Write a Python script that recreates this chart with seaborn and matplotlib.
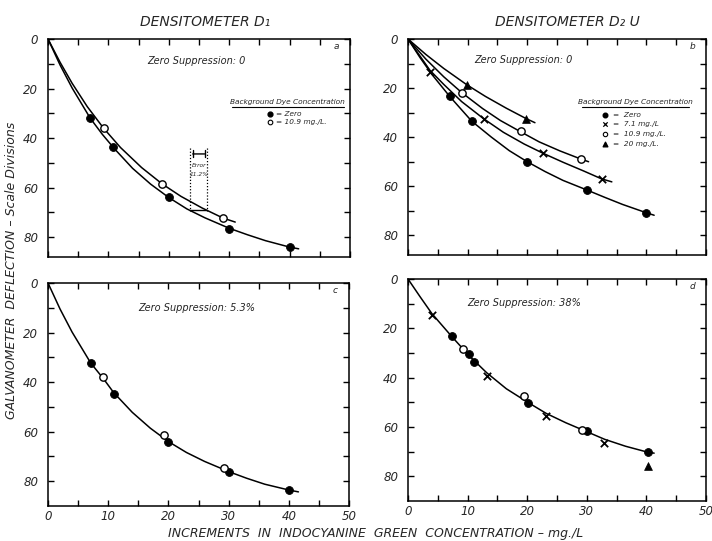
import numpy as np
import pandas as pd
import matplotlib
matplotlib.use("Agg")
import matplotlib.pyplot as plt
import seaborn as sns

# ---------------- data ----------------
# Panel a: Densitometer D1, zero suppression 0
a_zero_x = [7.0, 10.7, 20.0, 30.0, 40.0]
a_zero_y = [32.0, 43.6, 63.8, 76.5, 83.8]
a_109_x = [9.2, 18.9, 29.0]
a_109_y = [35.9, 58.5, 72.3]
a_zero_curve_x = [0, 2, 4, 7, 9, 11, 14, 17, 20, 23, 26, 30, 33, 36, 40, 41.5]
a_zero_curve_y = [0, 10.5, 19.8, 32.0, 38.5, 44.3, 52.2, 58.6, 64.0, 68.6, 72.2, 76.4, 79.0, 81.4, 84.0, 84.7]
a_109_curve_x = [0, 2, 4, 6.5, 9.2, 12, 15.5, 18.9, 22, 25.5, 29, 31]
a_109_curve_y = [0, 9.4, 17.9, 27.3, 36.0, 43.8, 51.9, 58.5, 63.5, 68.2, 72.3, 73.9]
err_x = [23.5, 26.4]
err_y = [44.0, 69.5]
err_arrow_y = 46.4
err_bar_y = 69.0

# Panel b: Densitometer D2U, zero suppression 0
b_zero_x = [7.0, 10.7, 20.0, 30.0, 40.0]
b_zero_y = [23.4, 33.5, 50.0, 61.5, 70.8]
b_71_x = [3.7, 12.7, 22.7, 32.5]
b_71_y = [13.3, 32.5, 46.6, 57.0]
b_109_x = [9.0, 18.9, 29.0]
b_109_y = [21.8, 37.5, 48.9]
b_20_x = [9.9, 19.8]
b_20_y = [18.7, 32.4]
b_zero_curve_x = [0, 2, 4, 7, 10.7, 14, 17, 20, 23, 26, 30, 33, 36, 40, 41.3]
b_zero_curve_y = [0, 7.5, 14.4, 23.4, 33.5, 40.0, 45.5, 50.0, 54.0, 57.6, 61.5, 64.5, 67.4, 70.8, 71.8]
b_71_curve_x = [0, 3.7, 6, 9, 12.7, 16, 19.5, 22.7, 26, 29.5, 32.5, 34.2]
b_71_curve_y = [0, 12.8, 18.5, 25.5, 32.5, 38.0, 42.8, 46.6, 50.2, 53.8, 57.0, 58.2]
b_109_curve_x = [0, 3, 6, 9, 12.5, 15.5, 18.9, 22, 25.5, 29, 30.3]
b_109_curve_y = [0, 8.2, 15.4, 21.8, 28.3, 33.2, 37.8, 41.9, 45.6, 48.9, 50.0]
b_20_curve_x = [0, 3, 6, 9.9, 13, 16.5, 19.8, 21.3]
b_20_curve_y = [0, 6.3, 12.0, 18.7, 23.4, 28.2, 32.4, 34.1]

# Panel c: Densitometer D1, zero suppression 5.3%
c_zero_x = [7.1, 10.9, 20.0, 30.1, 40.1]
c_zero_y = [32.3, 44.6, 64.1, 76.2, 83.4]
c_109_x = [9.2, 19.2, 29.3]
c_109_y = [38.1, 61.5, 74.8]
c_curve_x = [0, 2, 4, 7.1, 9.2, 10.9, 14, 17, 20, 23, 26, 30.1, 33, 36, 40.1, 41.6]
c_curve_y = [0, 10.5, 19.8, 32.3, 38.6, 44.2, 52.2, 58.6, 64.0, 68.4, 72.0, 76.2, 78.8, 81.2, 83.6, 84.3]

# Panel d: Densitometer D2U, zero suppression 38%
d_zero_x = [7.3, 10.3, 11.1, 20.1, 30.1, 40.2]
d_zero_y = [23.0, 30.6, 33.8, 50.1, 61.6, 70.1]
d_71_x = [4.0, 13.2, 23.2, 32.9]
d_71_y = [14.7, 39.2, 55.5, 66.4]
d_109_x = [9.3, 19.4, 29.2]
d_109_y = [28.4, 47.4, 61.4]
d_20_x = [40.2]
d_20_y = [75.9]
d_curve_x = [0, 2, 4, 7.3, 10.3, 13.2, 16.5, 20.1, 23.2, 26.5, 30.1, 33, 36.5, 40.2, 41.3]
d_curve_y = [0, 7.1, 14.0, 23.2, 31.2, 38.0, 44.5, 50.0, 54.5, 58.3, 62.0, 65.0, 67.8, 70.2, 70.6]

x_ticks = [0, 10, 20, 30, 40, 50]
y_ticks = [0, 20, 40, 60, 80]

# ---------------- drawing ----------------
sns.set_style("ticks")
plt.rcParams['font.family'] = ['DejaVu Sans']
plt.rcParams['axes.edgecolor'] = 'black'
plt.rcParams['axes.linewidth'] = 1.1

fig = plt.figure(figsize=(7.12, 5.41), dpi=100)
ax_a = fig.add_axes([48 / 712, 1 - 257 / 541, 302 / 712, 218 / 541])
ax_b = fig.add_axes([408 / 712, 1 - 255 / 541, 298 / 712, 216 / 541])
ax_c = fig.add_axes([48 / 712, 1 - 506 / 541, 301 / 712, 223 / 541])
ax_d = fig.add_axes([408 / 712, 1 - 501 / 541, 298 / 712, 222 / 541])


def curve(ax, xs, ys):
    df = pd.DataFrame({"x": xs, "y": ys})
    sns.lineplot(data=df, x="x", y="y", sort=False, estimator=None,
                 color="black", linewidth=1.1, ax=ax, zorder=2)


def pts(ax, xs, ys, kind):
    df = pd.DataFrame({"x": xs, "y": ys})
    if kind == "closed":
        sns.scatterplot(data=df, x="x", y="y", marker="o", s=32, color="black",
                        edgecolor="black", linewidth=0.6, ax=ax, zorder=3)
    elif kind == "open":
        sns.scatterplot(data=df, x="x", y="y", marker="o", s=28, color="white",
                        edgecolor="black", linewidth=1.0, ax=ax, zorder=3)
    elif kind == "cross":
        sns.scatterplot(data=df, x="x", y="y", marker="x", s=28, color="black",
                        linewidth=1.3, ax=ax, zorder=3)
    elif kind == "tri":
        sns.scatterplot(data=df, x="x", y="y", marker="^", s=32, color="black",
                        edgecolor="black", linewidth=0.5, ax=ax, zorder=3)


def style(ax, ymax, show_x, letter, zs_text, zs_pos):
    ax.set_xlim(0, 50)
    ax.set_ylim(ymax, 0)
    ax.set_xlabel("")
    ax.set_ylabel("")
    ax.set_xticks(x_ticks)
    ax.set_xticks([5, 15, 25, 35, 45], minor=True)
    ax.set_yticks(y_ticks)
    ax.set_yticks([10, 30, 50, 70], minor=True)
    if show_x:
        ax.set_xticklabels([str(v) for v in x_ticks], fontstyle="italic",
                           fontsize=8.5)
    else:
        ax.set_xticklabels([])
    ax.set_yticklabels([str(v) for v in y_ticks], fontstyle="italic",
                       fontsize=8.5)
    ax.tick_params(which="both", direction="in", top=True, right=True,
                   length=4, width=1.0, color="black")
    ax.tick_params(axis="y", pad=7)
    ax.tick_params(axis="x", pad=3)
    for s in ax.spines.values():
        s.set_visible(True)
        s.set_color("black")
        s.set_linewidth(1.1)
    ax.text(0.955, 0.965, letter, transform=ax.transAxes, ha="center", va="center",
            fontsize=6.5, fontstyle="italic")
    ax.text(zs_pos[0], zs_pos[1], zs_text, transform=ax.transAxes, ha="center",
            va="center", fontsize=7, fontstyle="italic")


# Panel a
curve(ax_a, a_zero_curve_x, a_zero_curve_y)
curve(ax_a, a_109_curve_x, a_109_curve_y)
pts(ax_a, a_zero_x, a_zero_y, "closed")
pts(ax_a, a_109_x, a_109_y, "open")
style(ax_a, 88, False, "a", "Zero Suppression: 0", (0.493, 0.90))
ax_a.vlines(err_x, err_y[0], err_y[1], colors="black", linestyles=(0, (1, 1.5)),
            linewidth=0.9)
ax_a.annotate("", xy=(err_x[1], err_arrow_y), xytext=(err_x[0], err_arrow_y),
              arrowprops=dict(arrowstyle="|-|,widthA=0.25,widthB=0.25",
                              color="black", lw=1.0))
ax_a.plot(err_x, [err_bar_y, err_bar_y], color="black", lw=1.0)
ax_a.text(np.mean(err_x), 51.2, "Error", ha="center", va="center", fontsize=4.2,
          fontstyle="italic")
ax_a.text(np.mean(err_x), 54.5, "11.2%", ha="center", va="center", fontsize=4.2,
          fontstyle="italic")
# legend a
ax_a.text(39.6, 25.6, "Background Dye Concentration", ha="center", va="center",
          fontsize=5.3, fontstyle="italic")
ax_a.plot([30.4, 49.0], [27.6, 27.6], color="black", lw=0.8)
ax_a.scatter([36.8], [30.2], marker="o", s=12, color="black", zorder=3)
ax_a.text(37.7, 30.2, "= Zero", ha="left", va="center", fontsize=5.3,
          fontstyle="italic")
ax_a.scatter([36.8], [33.5], marker="o", s=11, facecolor="white",
             edgecolor="black", linewidth=0.8, zorder=3)
ax_a.text(37.7, 33.5, "= 10.9 mg./L.", ha="left", va="center", fontsize=5.3,
          fontstyle="italic")

# Panel b
curve(ax_b, b_zero_curve_x, b_zero_curve_y)
curve(ax_b, b_71_curve_x, b_71_curve_y)
curve(ax_b, b_109_curve_x, b_109_curve_y)
curve(ax_b, b_20_curve_x, b_20_curve_y)
pts(ax_b, b_zero_x, b_zero_y, "closed")
pts(ax_b, b_71_x, b_71_y, "cross")
pts(ax_b, b_109_x, b_109_y, "open")
pts(ax_b, b_20_x, b_20_y, "tri")
style(ax_b, 88, False, "b", "Zero Suppression: 0", (0.386, 0.903))
ax_b.text(38.2, 25.8, "Background Dye Concentration", ha="center", va="center",
          fontsize=5.3, fontstyle="italic")
ax_b.plot([29.2, 47.2], [27.6, 27.6], color="black", lw=0.8)
leg_y = [31.0, 34.8, 38.8, 42.6]
leg_lbl = ["=  Zero", "=  7.1 mg./L", "=  10.9 mg./L.", "=  20 mg./L."]
ax_b.scatter([33.1], [leg_y[0]], marker="o", s=11, color="black", zorder=3)
ax_b.scatter([33.1], [leg_y[1]], marker="x", s=10, color="black", linewidth=0.9,
             zorder=3)
ax_b.scatter([33.1], [leg_y[2]], marker="o", s=10, facecolor="white",
             edgecolor="black", linewidth=0.8, zorder=3)
ax_b.scatter([33.1], [leg_y[3]], marker="^", s=11, color="black", zorder=3)
for yy, lab in zip(leg_y, leg_lbl):
    ax_b.text(34.4, yy, lab, ha="left", va="center", fontsize=5.3,
              fontstyle="italic")

# Panel c
curve(ax_c, c_curve_x, c_curve_y)
pts(ax_c, c_zero_x, c_zero_y, "closed")
pts(ax_c, c_109_x, c_109_y, "open")
style(ax_c, 90, True, "c", "Zero Suppression: 5.3%", (0.493, 0.89))

# Panel d
curve(ax_d, d_curve_x, d_curve_y)
pts(ax_d, d_zero_x, d_zero_y, "closed")
pts(ax_d, d_71_x, d_71_y, "cross")
pts(ax_d, d_109_x, d_109_y, "open")
pts(ax_d, d_20_x, d_20_y, "tri")
style(ax_d, 90, True, "d", "Zero Suppression: 38%", (0.389, 0.89))

# figure-level texts
fig.text(205 / 712, 1 - 22 / 541, "DENSITOMETER D\u2081", ha="center", va="center",
         fontsize=10, fontstyle="italic")
fig.text(567 / 712, 1 - 22 / 541, "DENSITOMETER D\u2082 U", ha="center",
         va="center", fontsize=10, fontstyle="italic")
fig.text(12 / 712, 0.5, "GALVANOMETER  DEFLECTION \u2013 Scale Divisions",
         rotation=90, ha="center", va="center", fontsize=9, fontstyle="italic")
fig.text(376 / 712, 1 - 534 / 541,
         "INCREMENTS  IN  INDOCYANINE  GREEN  CONCENTRATION \u2013 mg./L",
         ha="center", va="center", fontsize=9, fontstyle="italic")

fig.savefig("out.png", dpi=100)
